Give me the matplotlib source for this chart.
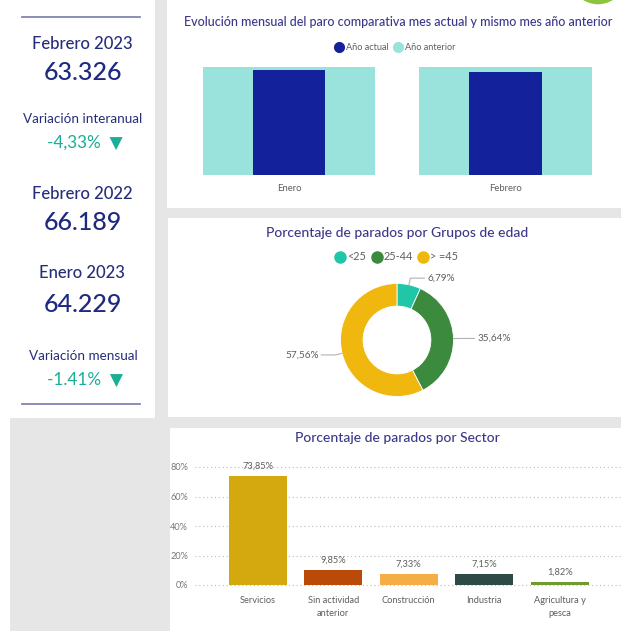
import matplotlib
matplotlib.use('Agg')
import matplotlib.pyplot as plt
from matplotlib.patches import Rectangle, Ellipse
from matplotlib.lines import Line2D
import numpy as np

# ---------------- data ----------------
kpi_labels = ['Febrero 2023', 'Febrero 2022', 'Enero 2023']
kpi_values = ['63.326', '66.189', '64.229']
var_labels = ['Variación interanual', 'Variación mensual']
var_values = ['-4,33%', '-1.41%']

months = ['Enero', 'Febrero']
paro_actual = [64229, 63326]
paro_anterior = [66100, 66189]
month_series = ['Año actual', 'Año anterior']

age_groups = ['<25', '25-44', '> =45']
age_pct = [6.79, 35.64, 57.56]

sectors = ['Servicios', 'Sin actividad\nanterior', 'Construcción', 'Industria', 'Agricultura y\npesca']
sector_pct = [73.85, 9.85, 7.33, 7.15, 1.82]
sector_ticks = [0, 20, 40, 60, 80]

# ---------------- style ----------------
FONT = ['Lato', 'DejaVu Sans']
plt.rcParams['font.family'] = FONT
TITLE_C = '#3B3889'
NAVY = '#262E7A'
TEAL = '#1AAE96'
GRAY = '#605E5C'
BG = '#E6E6E6'

W, H = 621, 631
fig = plt.figure(figsize=(W / 100, H / 100), dpi=100, facecolor=BG)


def box(x0, y0, x1, y1):
    return [x0 / W, 1 - y1 / H, (x1 - x0) / W, (y1 - y0) / H]


def panel(x0, y0, x1, y1, color='white'):
    fig.add_artist(Rectangle((x0 / W, 1 - y1 / H), (x1 - x0) / W, (y1 - y0) / H,
                             transform=fig.transFigure, facecolor=color,
                             edgecolor='none', zorder=0))


def ftext(x, y, s, **kw):
    kw.setdefault('ha', 'center')
    kw.setdefault('va', 'center')
    return fig.text(x / W, 1 - y / H, s, **kw)


# panels
panel(0, 0, 155, 418)
panel(0, 418, 10, 631)
panel(167, 0, 621, 208)
panel(168, 218, 621, 417)
panel(170, 428, 621, 631)

# green logo fragment top right
fig.add_artist(Ellipse((598 / W, 1 + 24 / H), 58 / W, 58 / H, transform=fig.transFigure,
                       facecolor='#8CC43F', edgecolor='white', lw=1, zorder=1))

# ---------------- left KPI panel ----------------
for yl in (17, 404):
    fig.add_artist(Line2D([22 / W, 140 / W], [1 - yl / H] * 2, color='#8186B2', lw=1.3,
                          transform=fig.transFigure))

kpi_y = [(44, 72), (194, 223), (273, 304)]
for lab, val, (yl, yv) in zip(kpi_labels, kpi_values, kpi_y):
    ftext(82, yl, lab, fontsize=12, color=NAVY, fontweight='medium')
    ftext(83, yv, val, fontsize=18, color='#1E2A80', fontweight='medium')

var_y = [(119, 143), (356, 380)]
for lab, val, (yl, yv) in zip(var_labels, var_values, var_y):
    ftext(83, yl, lab, fontsize=9.7, color=NAVY)
    ftext(85, yv, val + '  \u25BC', fontsize=12.3, color=TEAL, family=FONT)

# ---------------- top: monthly comparison ----------------
ftext(398, 22, 'Evolución mensual del paro comparativa mes actual y mismo mes año anterior',
      fontsize=9.0, color=TITLE_C, fontweight='medium')
ax1 = fig.add_axes(box(180.75, 67, 613.75, 175))
x = np.arange(len(months))
ax1.bar(x, paro_anterior, width=0.795, color='#9AE2DC', zorder=1)
ax1.bar(x, paro_actual, width=0.333, color='#13229A', zorder=2)
ax1.set_xlim(-0.5, 1.5)
ax1.set_ylim(0, max(paro_anterior))
ax1.set_xticks(x)
ax1.set_xticklabels(months, fontsize=6.8, color=GRAY)
ax1.tick_params(axis='x', length=0, pad=6.5)
ax1.set_yticks([])
for s in ax1.spines.values():
    s.set_visible(False)
ax1.patch.set_alpha(0)

h1 = [Line2D([], [], marker='o', ls='none', color=c, markersize=7)
      for c in ('#13229A', '#9AE2DC')]
fig.legend(h1, month_series, loc='center', bbox_to_anchor=(395 / W, 1 - 48 / H), ncol=2,
           frameon=False, fontsize=6.6, handletextpad=0.3, columnspacing=0.6,
           handlelength=0.9, labelcolor=GRAY)

# ---------------- middle: donut ----------------
ftext(397, 233, 'Porcentaje de parados por Grupos de edad', fontsize=10, color=TITLE_C,
      fontweight='medium')
age_colors = ['#1FC7A8', '#3B8A3E', '#F0B80E']
h2 = [Line2D([], [], marker='o', ls='none', color=c, markersize=8) for c in age_colors]
fig.legend(h2, age_groups, loc='center', bbox_to_anchor=(397 / W, 1 - 257 / H), ncol=3,
           frameon=False, fontsize=7.8, handletextpad=0.2, columnspacing=0.5,
           handlelength=0.9, labelcolor=GRAY)

R_PX = 56.5
ax2 = fig.add_axes(box(397 - 80, 340 - 80, 397 + 80, 340 + 80))
ax2.pie(age_pct, colors=age_colors, startangle=90, counterclock=False, radius=1,
        wedgeprops=dict(width=0.4, edgecolor='white', linewidth=0.6))
lim = 80 / R_PX
ax2.set_xlim(-lim, lim)
ax2.set_ylim(-lim, lim)
cum = np.cumsum([0] + age_pct[:-1])
for v, c0 in zip(age_pct, cum):
    th = np.deg2rad(90 - (c0 + v / 2) * 3.6)
    p0 = np.array([np.cos(th), np.sin(th)])
    p1 = p0 * 1.12
    sgn = 1 if np.cos(th) >= 0 else -1
    p2 = p1 + np.array([sgn * 0.25, 0])
    ax2.plot([p0[0], p1[0], p2[0]], [p0[1], p1[1], p2[1]], color='#B3B3B3', lw=0.8,
             clip_on=False)
    ax2.text(p2[0] + sgn * 0.05, p2[1], f'{v:.2f}'.replace('.', ',') + '%',
             ha='left' if sgn > 0 else 'right', va='center', fontsize=7.2, color=GRAY,
             clip_on=False)

# ---------------- bottom: sectors ----------------
ftext(397, 438, 'Porcentaje de parados por Sector', fontsize=10, color=TITLE_C,
      fontweight='medium')
ax3 = fig.add_axes(box(195, 455, 621, 590))
sector_colors = ['#D4A90F', '#BA4A08', '#F4AE45', '#2E4A47', '#6F9A2E']
xs = np.arange(len(sectors))
ax3.bar(xs, sector_pct, width=0.77, color=sector_colors, zorder=2)
ax3.set_xlim(-0.83, 4.81)
ax3.set_ylim(-5 / 1.475, 130 / 1.475)
ax3.set_yticks(sector_ticks)
ax3.set_yticklabels([f'{t}%' for t in sector_ticks], fontsize=6.6, color='#777777')
ax3.yaxis.grid(True, linestyle=(0, (1, 2.5)), color='#BDBDBD', lw=0.8, zorder=0)
ax3.set_xticks(xs)
ax3.set_xticklabels(sectors, fontsize=6.7, color=GRAY)
for lbl in ax3.get_xticklabels():
    lbl.set_linespacing(1.6)
ax3.tick_params(axis='both', length=0)
ax3.tick_params(axis='y', pad=5)
ax3.tick_params(axis='x', pad=4)
for s in ax3.spines.values():
    s.set_visible(False)
ax3.patch.set_alpha(0)
for xi, v in zip(xs, sector_pct):
    ax3.text(xi, v + 7, f'{v:.2f}'.replace('.', ',') + '%', ha='center', va='center',
             fontsize=6.7, color=GRAY)

fig.savefig('out.png', dpi=100, facecolor=BG)
